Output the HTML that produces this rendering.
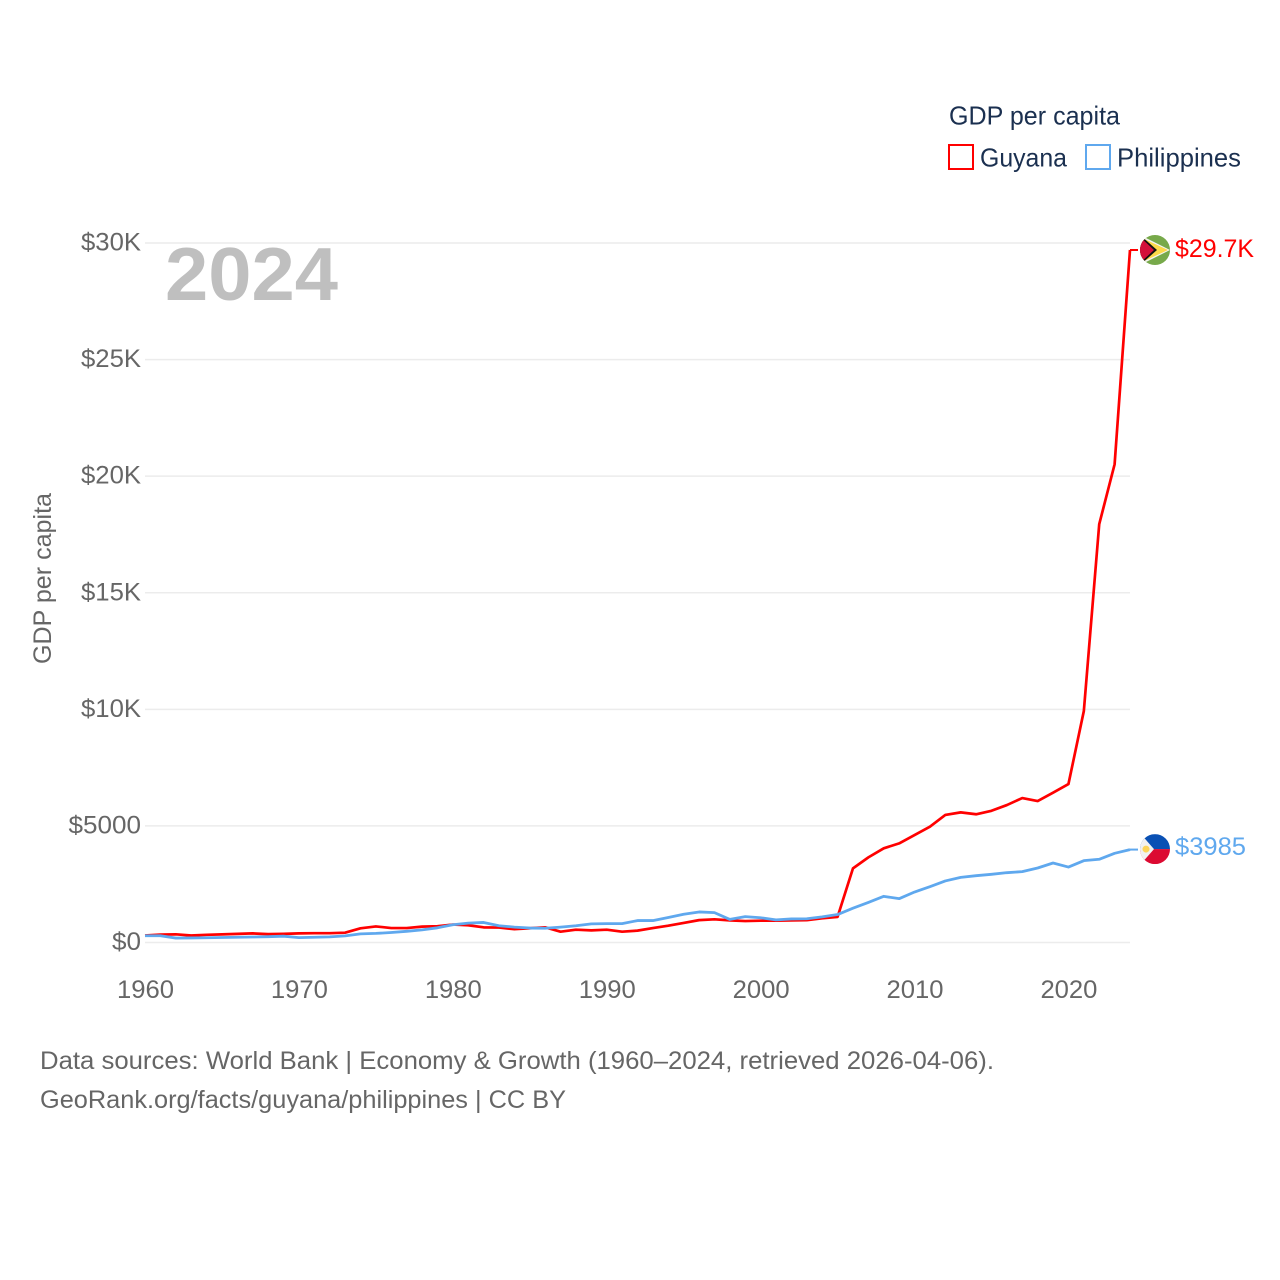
<!DOCTYPE html>
<html lang="en">
<head>
<meta charset="utf-8">
<title>GDP per capita: Guyana vs Philippines</title>
<style>
  html, body { margin: 0; padding: 0; background: #ffffff; }
  #chart { display: block; width: 1280px; height: 1280px; font-family: "Liberation Sans", sans-serif; }
</style>
</head>
<body>
<svg id="chart" xmlns="http://www.w3.org/2000/svg" width="1280" height="1280" viewBox="0 0 1280 1280">
  <defs>
    <clipPath id="flag-clip-guyana"><circle cx="0" cy="0" r="15"></circle></clipPath>
    <clipPath id="flag-clip-philippines"><circle cx="0" cy="0" r="15"></circle></clipPath>
  </defs>
  <rect x="0" y="0" width="1280" height="1280" fill="#ffffff"></rect>
  <g id="grid"></g>
  <g id="y-ticks"></g>
  <g id="x-ticks"></g>
  <text x="165" y="300" font-size="75" font-weight="700" fill="#bfbfbf" textLength="173" lengthAdjust="spacingAndGlyphs">2024</text>
  <text transform="translate(51,664) rotate(-90)" font-size="25" fill="#666666" textLength="171" lengthAdjust="spacingAndGlyphs">GDP per capita</text>
  <g id="series"></g>
  <g id="end-markers"></g>

  <g>
    <text x="949" y="124.5" font-size="26" fill="#1b3050" textLength="171" lengthAdjust="spacingAndGlyphs">GDP per capita</text>
    <g>
      <rect x="949" y="145" width="24" height="24" fill="#ffffff" stroke="#ff0000" stroke-width="2"></rect>
      <text x="980" y="166.5" font-size="26" fill="#1b3050" textLength="87" lengthAdjust="spacingAndGlyphs">Guyana</text>
    </g>
    <g>
      <rect x="1086" y="145" width="24" height="24" fill="#ffffff" stroke="#5fa8ee" stroke-width="2"></rect>
      <text x="1117" y="166.5" font-size="26" fill="#1b3050" textLength="124" lengthAdjust="spacingAndGlyphs">Philippines</text>
    </g>
  </g>

  <g>
    <text x="40" y="1069" font-size="25" fill="#666666" textLength="954" lengthAdjust="spacingAndGlyphs">Data sources: World Bank | Economy &amp; Growth (1960–2024, retrieved 2026-04-06).</text>
    <text x="40" y="1108" font-size="25" fill="#666666" textLength="526" lengthAdjust="spacingAndGlyphs">GeoRank.org/facts/guyana/philippines | CC BY</text>
  </g>
</svg>
<script>
const firstYear = 1960;
const guyanaValues = [300,340,350,300,330,350,370,390,360,370,390,400,400,420,610,690,620,620,680,700,770,740,650,640,570,610,650,465,550,520,550,465,510,620,720,840,960,995,950,920,935,935,950,960,1040,1100,3180,3650,4040,4250,4610,4965,5470,5580,5500,5650,5895,6195,6065,6425,6795,9925,17940,20510,29700];
const philippinesValues = [290,290,190,195,205,215,225,235,250,270,210,225,240,285,370,390,430,480,540,630,760,830,860,720,660,620,610,660,720,800,810,810,940,940,1070,1210,1310,1280,990,1110,1060,970,1010,1020,1100,1200,1470,1720,1980,1880,2165,2395,2640,2795,2865,2925,2995,3040,3195,3410,3235,3510,3570,3825,3985];
const yTickValues = [0,5000,10000,15000,20000,25000,30000];
const yTickLabels = ["$0","$5000","$10K","$15K","$20K","$25K","$30K"];
const xTickValues = [1960,1970,1980,1990,2000,2010,2020];
const endLabels = ["$29.7K","$3985"];

const SVG_NS = "http://www.w3.org/2000/svg";
function xScale(year) { return 145 + (year - 1960) * (1130 - 145) / 64; }
function yScale(value) { return 942.5 - value * 699.5 / 30000; }
function make(tag, attrs, parent) {
  const el = document.createElementNS(SVG_NS, tag);
  for (const k in attrs) el.setAttribute(k, attrs[k]);
  parent.appendChild(el);
  return el;
}

const gridGroup = document.getElementById("grid");
const yGroup = document.getElementById("y-ticks");
const xGroup = document.getElementById("x-ticks");
const seriesGroup = document.getElementById("series");
const markerGroup = document.getElementById("end-markers");

yTickValues.forEach(function (v, i) {
  const line = make("line", { x1: 145, x2: 1130, y1: yScale(v), y2: yScale(v), stroke: "#ececec", "stroke-width": 1.5 }, gridGroup);
  
  
  const label = make("text", { x: 141, y: yScale(v) + 7.5, "font-size": 25, fill: "#666666", "text-anchor": "end" }, yGroup);
  label.textContent = yTickLabels[i];
  label.setAttribute('textLength', String(yTickLabels[i].length * 14.5 + (yTickLabels[i].endsWith("K") ? 2 : 0)));
  label.setAttribute('lengthAdjust', 'spacingAndGlyphs');
  
  
});

xTickValues.forEach(function (year) {
  const label = make("text", { x: xScale(year) + 0.5, y: 998, "font-size": 25, fill: "#666666", "text-anchor": "middle", textLength: 57, lengthAdjust: "spacingAndGlyphs" }, xGroup);
  label.textContent = String(year);
  
  
});

function linePath(values) {
  return values.map(function (v, i) {
    return (i === 0 ? "M" : "L") + xScale(firstYear + i).toFixed(2) + " " + yScale(v).toFixed(2);
  }).join(" ");
}

const guyanaLine = make("path", { d: linePath(guyanaValues), fill: "none", stroke: "#ff0000", "stroke-width": 2.7, "stroke-linejoin": "round" }, seriesGroup);



const philippinesLine = make("path", { d: linePath(philippinesValues), fill: "none", stroke: "#5fa8ee", "stroke-width": 2.8, "stroke-linejoin": "round" }, seriesGroup);



const lastYear = firstYear + guyanaValues.length - 1;

/* Guyana end marker */
const gy = yScale(guyanaValues[guyanaValues.length - 1]);
const gStub = make("line", { x1: xScale(lastYear), x2: 1138, y1: gy, y2: gy, stroke: "#ff0000", "stroke-width": 2 }, markerGroup);


const gFlag = make("g", { transform: "translate(1155," + gy + ")" }, markerGroup);


const gClip = make("g", { "clip-path": "url(#flag-clip-guyana)" }, gFlag);
make("rect", { x: -15, y: -15, width: 30, height: 30, fill: "#77a94a" }, gClip);
make("polygon", { points: "-15,-15 15,0 -15,15", fill: "#f4f4f4" }, gClip);
make("polygon", { points: "-15,-13 13,0 -15,13", fill: "#fcd94a" }, gClip);
make("polygon", { points: "-15,-15 2,0 -15,15", fill: "#111111" }, gClip);
make("polygon", { points: "-15,-13 -1,0 -15,13", fill: "#d3103a" }, gClip);
const gLabel = make("text", { x: 1175, y: gy + 7, "font-size": 25, fill: "#ff0000", textLength: 79, lengthAdjust: "spacingAndGlyphs" }, markerGroup);
gLabel.textContent = endLabels[0];



/* Philippines end marker */
const py = yScale(philippinesValues[philippinesValues.length - 1]);
const pStub = make("line", { x1: xScale(lastYear), x2: 1138, y1: py, y2: py, stroke: "#5fa8ee", "stroke-width": 2 }, markerGroup);


const pFlag = make("g", { transform: "translate(1155," + (py - 0.5) + ")" }, markerGroup);


const pClip = make("g", { "clip-path": "url(#flag-clip-philippines)" }, pFlag);
make("rect", { x: -15, y: -15, width: 30, height: 15, fill: "#0a50b4" }, pClip);
make("rect", { x: -15, y: 0, width: 30, height: 15, fill: "#dc0a32" }, pClip);
make("polygon", { points: "-15,-16 -15,16 -1,0", fill: "#f1f1f1" }, pClip);
make("circle", { cx: -9, cy: 0, r: 3.5, fill: "#fcd45a" }, pClip);
const pLabel = make("text", { x: 1175, y: py + 5.5, "font-size": 25, fill: "#5fa8ee", textLength: 71, lengthAdjust: "spacingAndGlyphs" }, markerGroup);
pLabel.textContent = endLabels[1];


</script>
</body>
</html>
